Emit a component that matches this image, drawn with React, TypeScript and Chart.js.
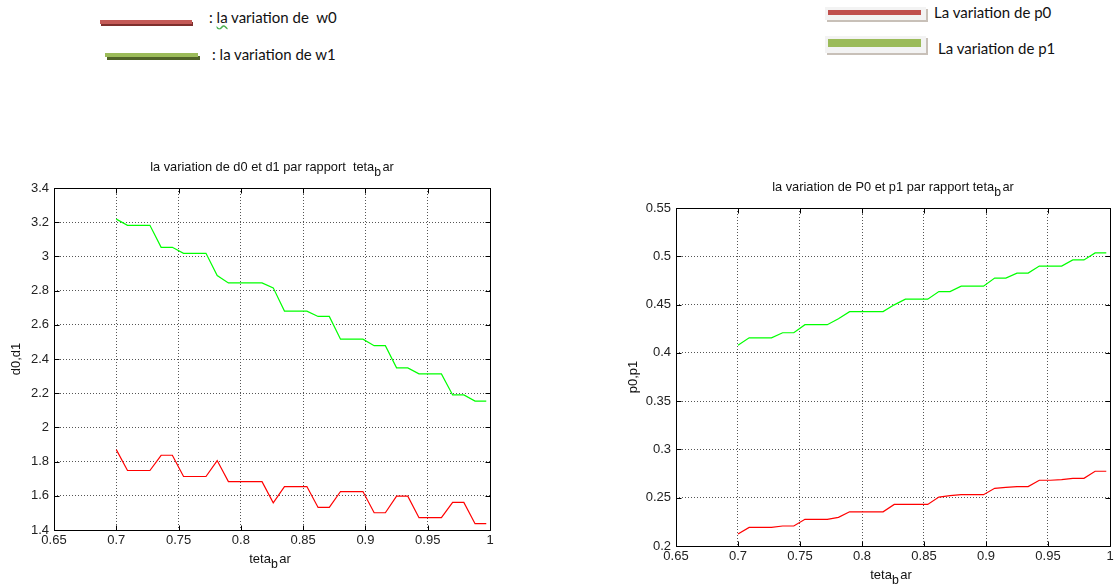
import React, { useEffect, useRef } from "react";
import { Chart, registerables } from "chart.js";

Chart.register(...registerables);

// ---------- data ----------
const thetaBar = [
  0.7, 0.709, 0.718, 0.727, 0.736, 0.745, 0.754, 0.763, 0.772, 0.781, 0.79, 0.799,
  0.808, 0.817, 0.826, 0.835, 0.844, 0.853, 0.862, 0.871, 0.88, 0.889, 0.898, 0.907,
  0.916, 0.925, 0.934, 0.943, 0.952, 0.961, 0.97, 0.979, 0.988, 0.997,
];

const d0Values = [
  1.87, 1.748, 1.748, 1.748, 1.837, 1.837, 1.713, 1.713, 1.713, 1.806, 1.683, 1.683,
  1.683, 1.683, 1.559, 1.654, 1.654, 1.654, 1.532, 1.532, 1.625, 1.625, 1.625, 1.501,
  1.501, 1.598, 1.598, 1.472, 1.472, 1.472, 1.561, 1.561, 1.437, 1.437,
];

const d1Values = [
  3.218, 3.182, 3.182, 3.182, 3.053, 3.053, 3.018, 3.018, 3.018, 2.888, 2.845, 2.845,
  2.845, 2.845, 2.816, 2.68, 2.68, 2.68, 2.649, 2.649, 2.516, 2.516, 2.516, 2.478,
  2.478, 2.348, 2.348, 2.313, 2.313, 2.313, 2.19, 2.19, 2.154, 2.154,
];

const p0Values = [
  0.2124, 0.2193, 0.2193, 0.2193, 0.2207, 0.2207, 0.2276, 0.2276, 0.2276, 0.2297, 0.2354, 0.2354,
  0.2354, 0.2354, 0.2431, 0.2431, 0.2431, 0.2431, 0.2507, 0.2521, 0.2531, 0.2531, 0.2531, 0.2597,
  0.2608, 0.2615, 0.2615, 0.2681, 0.2681, 0.2688, 0.2701, 0.2701, 0.2774, 0.2774,
];

const p1Values = [
  0.408, 0.4156, 0.4156, 0.4156, 0.4208, 0.4208, 0.4292, 0.4292, 0.4292, 0.4354, 0.4427, 0.4427,
  0.4427, 0.4427, 0.4497, 0.4556, 0.4556, 0.4556, 0.4635, 0.4635, 0.4691, 0.4691, 0.4691, 0.4774,
  0.4774, 0.4826, 0.4826, 0.4899, 0.4899, 0.4899, 0.4962, 0.4962, 0.5035, 0.5035,
];

const xTickValues = [0.65, 0.7, 0.75, 0.8, 0.85, 0.9, 0.95, 1];
const dTickValues = [1.4, 1.6, 1.8, 2, 2.2, 2.4, 2.6, 2.8, 3, 3.2, 3.4];
const pTickValues = [0.2, 0.25, 0.3, 0.35, 0.4, 0.45, 0.5, 0.55];

const leftTitle = ["la variation de d0 et d1 par rapport  teta", "b", "ar"];
const rightTitle = ["la variation de P0 et p1 par rapport teta", "b", "ar"];
const xAxisLabel = ["teta", "b", "ar"];
const leftYLabel = "d0,d1";
const rightYLabel = "p0,p1";

// ---------- drawing helpers ----------
const FONT = '"Liberation Sans", Arial, Helvetica, sans-serif';

function drawSubText(ctx: CanvasRenderingContext2D, parts: string[], cx: number, cy: number, size: number) {
  const subSize = size * 0.95;
  const gap = 1.5;
  ctx.font = `${size}px ${FONT}`;
  const w0 = ctx.measureText(parts[0]).width;
  const w2 = ctx.measureText(parts[2]).width;
  ctx.font = `${subSize}px ${FONT}`;
  const w1 = ctx.measureText(parts[1]).width;
  let x = cx - (w0 + w1 + gap + w2) / 2;
  ctx.textAlign = "left";
  ctx.textBaseline = "middle";
  ctx.font = `${size}px ${FONT}`;
  ctx.fillText(parts[0], x, cy);
  x += w0;
  ctx.font = `${subSize}px ${FONT}`;
  ctx.fillText(parts[1], x, cy + size * 0.42);
  x += w1 + gap;
  ctx.font = `${size}px ${FONT}`;
  ctx.fillText(parts[2], x, cy);
}

const matlabFrame = {
  id: "matlabFrame",
  afterDraw(chart: any, _args: any, opts: any) {
    const { ctx, chartArea: a, scales } = chart;
    const xs = scales.x;
    const ys = scales.y;
    ctx.save();
    ctx.setLineDash([]);
    ctx.strokeStyle = "#000";
    ctx.lineWidth = 1;
    const L = Math.round(a.left) + 0.5;
    const T = Math.round(a.top) + 0.5;
    const R = Math.round(a.right) + 0.5;
    const B = Math.round(a.bottom) + 0.5;
    ctx.beginPath();
    ctx.moveTo(L, T);
    ctx.lineTo(R, T);
    ctx.lineTo(R, B);
    ctx.lineTo(L, B);
    ctx.closePath();
    for (const t of xs.ticks) {
      const px = Math.round(xs.getPixelForValue(t.value)) + 0.5;
      ctx.moveTo(px, B);
      ctx.lineTo(px, B - 5);
      ctx.moveTo(px, T);
      ctx.lineTo(px, T + 5);
    }
    for (const t of ys.ticks) {
      const py = Math.round(ys.getPixelForValue(t.value)) + 0.5;
      ctx.moveTo(L, py);
      ctx.lineTo(L + 5, py);
      ctx.moveTo(R, py);
      ctx.lineTo(R - 5, py);
    }
    ctx.stroke();

    ctx.fillStyle = "#111";
    drawSubText(ctx, opts.title, (a.left + a.right) / 2, a.top - 21, 12.8);
    drawSubText(ctx, opts.xLabel, (a.left + a.right) / 2 - 2, a.bottom + 29, 13);

    ctx.save();
    ctx.translate(opts.yLabelX, (a.top + a.bottom) / 2);
    ctx.rotate(-Math.PI / 2);
    ctx.font = `13px ${FONT}`;
    ctx.textAlign = "center";
    ctx.textBaseline = "middle";
    ctx.fillText(opts.yLabel, 0, 0);
    ctx.restore();
    ctx.restore();
  },
};

const fmt = (v: any) => String(+Number(v).toFixed(2));

function buildConfig(
  series: { label: string; values: number[]; color: string }[],
  yTicks: number[],
  padding: any,
  yAxisWidth: number,
  xAxisHeight: number,
  frame: any
): any {
  return {
    type: "line",
    data: {
      datasets: series.map((s) => ({
        label: s.label,
        data: thetaBar.map((x, i) => ({ x, y: s.values[i] })),
        borderColor: s.color,
        backgroundColor: s.color,
        borderWidth: 1.2,
        pointRadius: 0,
        tension: 0,
        fill: false,
      })),
    },
    options: {
      animation: false,
      responsive: false,
      devicePixelRatio: 1,
      events: [],
      layout: { padding },
      plugins: {
        legend: { display: false },
        title: { display: false },
        tooltip: { enabled: false },
        matlabFrame: frame,
      },
      scales: {
        x: {
          type: "linear",
          min: xTickValues[0],
          max: xTickValues[xTickValues.length - 1],
          afterBuildTicks: (s: any) => {
            s.ticks = xTickValues.map((v) => ({ value: v }));
          },
          afterFit: (s: any) => {
            s.height = xAxisHeight;
          },
          ticks: {
            callback: fmt,
            padding: 3,
            maxRotation: 0,
            autoSkip: false,
            color: "#222",
            font: { family: FONT, size: 13 },
          },
          grid: { color: "#555", lineWidth: 1, drawTicks: false },
          border: { display: false, dash: [1, 2] },
        },
        y: {
          type: "linear",
          min: yTicks[0],
          max: yTicks[yTicks.length - 1],
          afterBuildTicks: (s: any) => {
            s.ticks = yTicks.map((v) => ({ value: v }));
          },
          afterFit: (s: any) => {
            s.width = yAxisWidth;
          },
          ticks: {
            callback: fmt,
            padding: 5,
            autoSkip: false,
            color: "#222",
            font: { family: FONT, size: 13 },
          },
          grid: { color: "#555", lineWidth: 1, drawTicks: false },
          border: { display: false, dash: [1, 2] },
        },
      },
    },
    plugins: [matlabFrame],
  };
}

function ChartCanvas({ config, left, top, width, height }: any) {
  const ref = useRef<HTMLCanvasElement>(null);
  useEffect(() => {
    const chart = new Chart(ref.current as HTMLCanvasElement, config);
    return () => chart.destroy();
  }, []);
  return (
    <canvas
      ref={ref}
      width={width}
      height={height}
      style={{ position: "absolute", left, top, width, height }}
    />
  );
}

const legendFont = 'Lato, "Open Sans", sans-serif';

function LegendText({ left, top, children }: any) {
  return (
    <div
      style={{
        position: "absolute",
        left,
        top,
        fontFamily: legendFont,
        fontSize: 15,
        lineHeight: "20px",
        whiteSpace: "pre",
        color: "#111",
      }}
    >
      {children}
    </div>
  );
}

export default function App() {
  const leftConfig = buildConfig(
    [
      { label: "d1", values: d1Values, color: "#00ff00" },
      { label: "d0", values: d0Values, color: "#ff0000" },
    ],
    dTickValues,
    { left: 0, top: 38, right: 20, bottom: 20 },
    54,
    36,
    { title: leftTitle, xLabel: xAxisLabel, yLabel: leftYLabel, yLabelX: 16 }
  );
  const rightConfig = buildConfig(
    [
      { label: "p1", values: p1Values, color: "#00ff00" },
      { label: "p0", values: p0Values, color: "#ff0000" },
    ],
    pTickValues,
    { left: 0, top: 58, right: 8, bottom: 10 },
    76,
    30,
    { title: rightTitle, xLabel: xAxisLabel, yLabel: rightYLabel, yLabelX: 33 }
  );

  return (
    <div
      style={{
        position: "absolute",
        left: 0,
        top: 0,
        width: 1118,
        height: 586,
        background: "#fff",
        overflow: "hidden",
      }}
    >
      {/* left legend */}
      <div style={{ position: "absolute", left: 100, top: 20, width: 92, height: 4, background: "#c45a57", boxShadow: "1px 2px 0 #7f2f2d" }} />
      <LegendText left={209} top={7}>
        {": "}
        <span style={{ textDecoration: "underline wavy #4caf50" }}>la</span>
        {" variation de  w0"}
      </LegendText>
      <div style={{ position: "absolute", left: 105, top: 53, width: 93, height: 4, background: "#9bbb59", boxShadow: "2px 3px 0 #4f6228" }} />
      <LegendText left={212} top={44}>{": la variation de w1"}</LegendText>

      {/* right legend */}
      <div style={{ position: "absolute", left: 825, top: 7, width: 101, height: 13, background: "#f3f3f3", boxShadow: "2px 2px 0 #c8c0b8" }} />
      <div style={{ position: "absolute", left: 828, top: 10, width: 93, height: 5, background: "#c0504d" }} />
      <LegendText left={934} top={2}>{"La variation de p0"}</LegendText>
      <div style={{ position: "absolute", left: 825, top: 36, width: 101, height: 17, background: "#f3f3f3", boxShadow: "2px 2px 0 #c8c0b8" }} />
      <div style={{ position: "absolute", left: 828, top: 39, width: 93, height: 8, background: "#9bbb59" }} />
      <LegendText left={938} top={38}>{"La variation de p1"}</LegendText>

      <ChartCanvas config={leftConfig} left={0} top={150} width={510} height={436} />
      <ChartCanvas config={rightConfig} left={600} top={150} width={518} height={436} />
    </div>
  );
}
